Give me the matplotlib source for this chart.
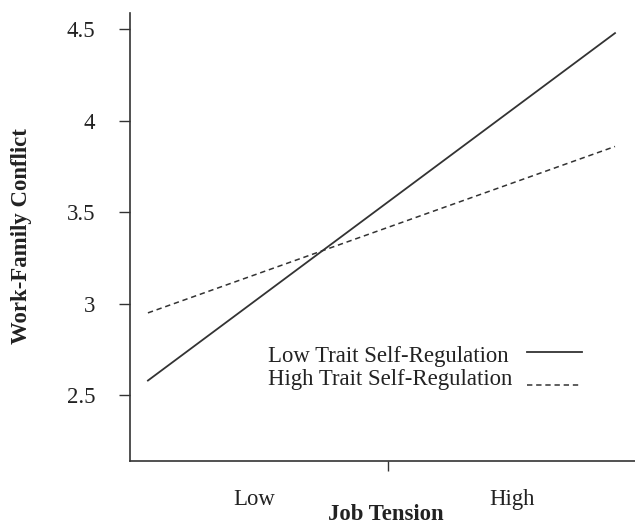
import matplotlib
matplotlib.use("Agg")
import matplotlib.pyplot as plt
from matplotlib.lines import Line2D

plt.rcParams['font.family'] = ['Liberation Serif', 'DejaVu Serif']

x_ends = [-1.822, 1.798]
low_reg = [2.58, 4.48]
high_reg = [2.95, 3.86]
tick_labels = ["Low", "High"]
tick_pos = [-1, 1]
series_names = ["Low Trait Self-Regulation", "High Trait Self-Regulation"]

W, H = 635, 526
fig = plt.figure(figsize=(W/100, H/100), dpi=100)
ax = fig.add_axes([130/W, 1-461/H, 1-130/W, (461-13)/H])

col = '#333333'
tcol = '#222222'
FS = 16.4
ax.plot(x_ends, low_reg, color=col, lw=1.3, ls='-')
ax.plot(x_ends, high_reg, color=col, lw=1.1, ls=(0, (3.5, 2.5)))

ax.set_xlim(-1.961, 1.953)
ax.set_ylim(2.14, 4.59)
ax.set_yticks([2.5, 3, 3.5, 4, 4.5])
ax.set_yticklabels(["2.5", "3", "3.5", "4", "4.5"])
ax.tick_params(axis='y', direction='out', length=8, width=1, color=col, labelsize=FS, pad=17, labelcolor=tcol)

ax.set_xticks(tick_pos)
ax.set_xticklabels(tick_labels)
ax.tick_params(axis='x', which='major', length=0, labelsize=FS, pad=20, labelcolor=tcol)
ax.set_xticks([0.04], minor=True)
ax.tick_params(axis='x', which='minor', direction='out', length=7, width=1, color=col)

for s in ['top', 'right']:
    ax.spines[s].set_visible(False)
for s in ['left', 'bottom']:
    ax.spines[s].set_color(col)
    ax.spines[s].set_linewidth(1.2)

ax.set_xlabel("Job Tension", fontsize=FS, fontweight='bold', color=tcol)
ax.xaxis.set_label_coords(386/W, 1-520/H, transform=fig.transFigure)
ax.xaxis.label.set_va('baseline')
ax.set_ylabel("Work-Family Conflict", fontsize=FS, fontweight='bold', color=tcol)
ax.yaxis.set_label_coords(22/W, 1-236/H, transform=fig.transFigure)
ax.yaxis.label.set_va('center')

# legend (manual, left-aligned texts with samples to the right)
fig.text(268/W, 1-362/H, series_names[0], fontsize=FS, color=tcol, va='baseline', ha='left')
fig.text(268/W, 1-385/H, series_names[1], fontsize=FS, color=tcol, va='baseline', ha='left')
fig.add_artist(Line2D([527/W, 582/W], [1-352/H, 1-352/H], transform=fig.transFigure,
                      color=col, lw=1.3, ls='-'))
fig.add_artist(Line2D([527/W, 582/W], [1-385/H, 1-385/H], transform=fig.transFigure,
                      color=col, lw=1.1, ls=(0, (3.5, 2.5))))

fig.savefig("out.png", dpi=100)
